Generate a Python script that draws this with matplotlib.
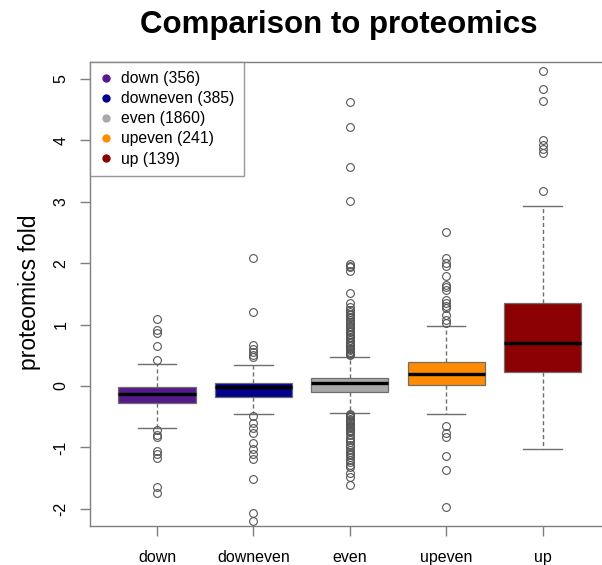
"""Boxplot of proteomics fold change by RNA category, R base-graphics look."""
import matplotlib
matplotlib.use("Agg")
import matplotlib.pyplot as plt
from matplotlib.lines import Line2D

plt.rcParams["font.family"] = ["Liberation Sans", "DejaVu Sans"]

W, H, DPI = 602, 565, 100
AXIS_GREY = "#7f7f7f"

# ----------------------------------------------------------------------
# Data: per-category summary stats and outliers
# ----------------------------------------------------------------------
CATEGORIES = ["down", "downeven", "even", "upeven", "up"]
COUNTS = [356, 385, 1860, 241, 139]
COLORS = ["#551A8B", "#00008B", "#A9A9A9", "#FF8C00", "#8B0000"]

MEDIANS = [-0.13, -0.02, 0.044, 0.196, 0.707]
Q1 = [-0.283, -0.174, -0.093, 0.016, 0.234]
Q3 = [-0.021, 0.054, 0.125, 0.397, 1.359]
WHISK_LO = [-0.69, -0.462, -0.435, -0.462, -1.033]
WHISK_HI = [0.364, 0.343, 0.478, 0.979, 2.936]

FLIERS_DOWN = [1.098, 0.914, 0.859, 0.658, 0.424,
               -0.71, -0.80, -0.826, -1.055, -1.109, -1.18, -1.642, -1.74]
FLIERS_DOWNEVEN = [2.083, 1.202, 0.669, 0.598, 0.56, 0.506, 0.468,
                   -0.484, -0.609, -0.69, -0.761, -0.925, -1.033, -1.115,
                   -1.196, -1.522, -2.066, -2.197]
FLIERS_EVEN = [4.62, 4.21, 3.57, 3.02, 1.99, 1.96, 1.94, 1.88, 1.52, 1.35,
               1.29, 1.24, 1.21, 1.18, 1.15, 1.12, 1.10, 1.07, 1.04, 1.01,
               0.98, 0.96, 0.93, 0.90, 0.88, 0.85, 0.83, 0.80, 0.78, 0.75,
               0.72, 0.70, 0.67, 0.65, 0.62, 0.60, 0.58, 0.56, 0.54, 0.52,
               0.50,
               -0.45, -0.47, -0.49, -0.51, -0.53, -0.55, -0.57, -0.59, -0.61,
               -0.63, -0.65, -0.67, -0.69, -0.71, -0.73, -0.75, -0.80, -0.84,
               -0.88, -0.92, -0.96, -1.00, -1.04, -1.07, -1.10, -1.13, -1.16,
               -1.20, -1.24, -1.28, -1.32, -1.41, -1.48, -1.62]
FLIERS_UPEVEN = [2.50, 2.083, 2.01, 1.946, 1.783, 1.648, 1.604, 1.566, 1.403,
                 1.349, 1.305, 1.267, 1.158, 1.077, 1.023,
                 -0.653, -0.772, -0.826, -1.142, -1.37, -1.968]
FLIERS_UP = [5.128, 4.829, 4.649, 4.002, 3.93, 3.861, 3.796, 3.181]
FLIERS = [FLIERS_DOWN, FLIERS_DOWNEVEN, FLIERS_EVEN, FLIERS_UPEVEN, FLIERS_UP]

YTICKS = [-2, -1, 0, 1, 2, 3, 4, 5]

# ----------------------------------------------------------------------
# Figure
# ----------------------------------------------------------------------
fig = plt.figure(figsize=(W / DPI, H / DPI), dpi=DPI)
# plot region runs past the right edge of the canvas (cropped export)
ax = fig.add_axes([89.5 / W, 39 / H, 520.5 / W, 464 / H])

stats = []
for i, cat in enumerate(CATEGORIES):
    stats.append(dict(label=cat, med=MEDIANS[i], q1=Q1[i], q3=Q3[i],
                      whislo=WHISK_LO[i], whishi=WHISK_HI[i], fliers=FLIERS[i]))

positions = list(range(1, len(CATEGORIES) + 1))
parts = ax.bxp(
    stats, positions=positions, widths=0.8, capwidths=0.4,
    patch_artist=True, showfliers=True,
    boxprops=dict(edgecolor="#6e6e6e", linewidth=0.9),
    whiskerprops=dict(color="#6e6e6e", linestyle=(0, (3, 2)), linewidth=1.0),
    capprops=dict(color="#6e6e6e", linewidth=1.0),
    medianprops=dict(color="black", linewidth=2.4, solid_capstyle="butt"),
    flierprops=dict(marker="o", markersize=5.6, markerfacecolor="none",
                    markeredgecolor="#555555", markeredgewidth=0.8,
                    linestyle="none"),
)
for patch, col in zip(parts["boxes"], COLORS):
    patch.set_facecolor(col)

ax.set_xlim(0.3, 5.7)
ax.set_ylim(-2.28, 5.276)
ax.set_yticks(YTICKS)
ax.set_yticklabels([str(t) for t in YTICKS], rotation=90, va="center")
ax.set_xticks(positions)
ax.set_xticklabels(CATEGORIES)

for sp in ax.spines.values():
    sp.set_color(AXIS_GREY)
    sp.set_linewidth(1.0)
ax.tick_params(axis="both", direction="out", length=7, width=1.0,
               color=AXIS_GREY, labelsize=11.5, labelcolor="black")
ax.tick_params(axis="y", pad=8)
ax.tick_params(axis="x", pad=10)

# legend with category sizes
handles = [Line2D([], [], marker="o", color=c, linestyle="none", markersize=5)
           for c in COLORS]
labels = [f"{c} ({n})" for c, n in zip(CATEGORIES, COUNTS)]
leg = ax.legend(handles, labels, loc="upper left", bbox_to_anchor=(0, 1),
                borderaxespad=0, fontsize=11.3, frameon=True, fancybox=False,
                handlelength=0.9, handletextpad=0.5, borderpad=0.6,
                labelspacing=0.32)
leg.get_frame().set_edgecolor(AXIS_GREY)
leg.get_frame().set_linewidth(1.0)

fig.text(339 / W, 1 - 25 / H, "Comparison to proteomics", ha="center",
         va="center", fontsize=22.5, fontweight="bold")
fig.text(30 / W, 1 - 292 / H, "proteomics fold", ha="center", va="center",
         rotation=90, fontsize=16.5)

fig.savefig("out.png", dpi=DPI)
